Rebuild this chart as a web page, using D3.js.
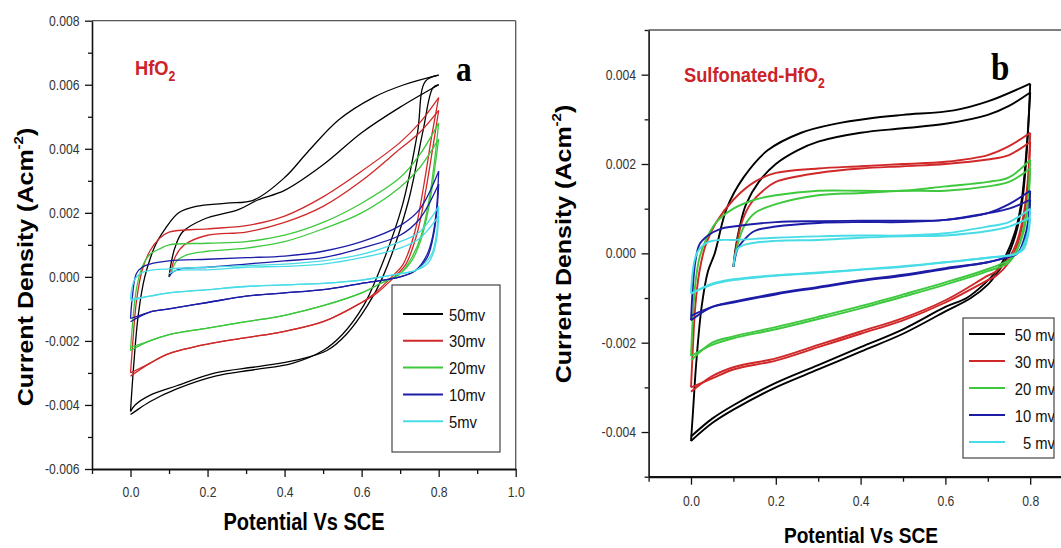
<!DOCTYPE html>
<html>
<head>
<meta charset="utf-8">
<script src="https://cdn.jsdelivr.net/npm/d3@7"></script>
<style>
  html, body { margin: 0; padding: 0; background: #fff; }
  svg { display: block; font-family: "Liberation Sans", Arial, sans-serif; }
</style>
</head>
<body>
<svg id="chart" width="1061" height="548"></svg>
<script>
// ---------------------------------------------------------------
// Cyclic voltammograms, potential (V vs SCE) vs current density (A cm^-2)
// Each series is a list of sweeps; each sweep is a list of [E, j] points.
// ---------------------------------------------------------------

const scanRates = ["50mv", "30mv", "20mv", "10mv", "5mv"];
const scanRatesSpaced = ["50 mv", "30 mv", "20 mv", "10 mv", "5 mv"];
const seriesColors = ["#000000", "#d02828", "#3dc83d", "#1c1ca6", "#48dce6"];

const xTickLabelsA = [0.0, 0.2, 0.4, 0.6, 0.8, 1.0];
const xTickLabelsB = [0.0, 0.2, 0.4, 0.6, 0.8];
const xMinorTicks = [-0.1, 0.1, 0.3, 0.5, 0.7, 0.9];
const yTicksA = [-0.006, -0.004, -0.002, 0.000, 0.002, 0.004, 0.006, 0.008];
const yMinorA = [-0.005, -0.003, -0.001, 0.001, 0.003, 0.005, 0.007];
const yTicksB = [-0.004, -0.002, 0.000, 0.002, 0.004];
const yMinorB = [-0.005, -0.003, -0.001, 0.001, 0.003, 0.005];

// ---------------- HfO2 ----------------
const hfo2_50 = [
  [[0.1,0.0],[0.105,0.0004],[0.115,0.0009],[0.135,0.0014],[0.19,0.0018],[0.28,0.0021],[0.33,0.0024],[0.4,0.0027],[0.5,0.0035],[0.6,0.0045],[0.7,0.0053],[0.8,0.0060]],
  [[0.8,0.0060],[0.785,0.0059],[0.76,0.0046],[0.72,0.0023],[0.655,0.0],[0.615,-0.0009],[0.56,-0.0018],[0.51,-0.0023],[0.43,-0.0026],[0.33,-0.0028],[0.22,-0.0030],[0.12,-0.0034],[0.05,-0.0037],[0.012,-0.0040],[0.0,-0.0042]],
  [[0.0,-0.0042],[0.008,-0.0028],[0.02,-0.0012],[0.037,0.0],[0.065,0.0010],[0.09,0.0015],[0.125,0.0020],[0.17,0.0022],[0.25,0.0023],[0.32,0.0024],[0.4,0.0031],[0.46,0.0039],[0.54,0.0049],[0.63,0.0056],[0.71,0.0060],[0.8,0.0063]],
  [[0.8,0.0063],[0.765,0.0061],[0.745,0.0045],[0.705,0.0022],[0.64,0.0],[0.605,-0.0009],[0.55,-0.0018],[0.5,-0.0023],[0.42,-0.0027],[0.32,-0.0029],[0.22,-0.0031],[0.12,-0.0035],[0.05,-0.0039],[0.012,-0.0042],[0.0,-0.0043]]
];
const hfo2_30 = [
  [[0.105,0.0001],[0.115,0.0006],[0.14,0.0010],[0.2,0.0013],[0.3,0.0014],[0.4,0.0017],[0.5,0.0022],[0.6,0.0030],[0.7,0.0040],[0.75,0.0045],[0.8,0.0052]],
  [[0.8,0.0052],[0.787,0.0042],[0.768,0.0028],[0.745,0.0014],[0.715,0.0004],[0.685,0.0],[0.64,-0.0005],[0.6,-0.0008],[0.5,-0.0014],[0.4,-0.0017],[0.3,-0.0019],[0.2,-0.0021],[0.1,-0.0024],[0.05,-0.0027],[0.0,-0.0030]],
  [[0.0,-0.0030],[0.005,-0.0022],[0.015,-0.0008],[0.03,0.0002],[0.05,0.0008],[0.075,0.0012],[0.1,0.0014],[0.2,0.0015],[0.3,0.0016],[0.4,0.0019],[0.5,0.0025],[0.6,0.0033],[0.7,0.0042],[0.75,0.0048],[0.8,0.0056]],
  [[0.8,0.0056],[0.782,0.0044],[0.762,0.0029],[0.738,0.0014],[0.708,0.0004],[0.678,0.0],[0.635,-0.0005],[0.6,-0.0008],[0.5,-0.0014],[0.4,-0.0017],[0.3,-0.0019],[0.2,-0.0021],[0.1,-0.0024],[0.05,-0.0027],[0.0,-0.0031]]
];
const hfo2_20 = [
  [[0.105,0.0001],[0.12,0.0005],[0.15,0.0007],[0.2,0.0008],[0.3,0.0009],[0.4,0.0011],[0.5,0.0015],[0.6,0.0020],[0.7,0.0028],[0.75,0.0034],[0.8,0.0043]],
  [[0.8,0.0043],[0.79,0.0034],[0.775,0.0022],[0.755,0.0012],[0.73,0.0005],[0.70,0.0001],[0.65,-0.0002],[0.6,-0.0005],[0.5,-0.0009],[0.4,-0.0012],[0.3,-0.0014],[0.2,-0.0016],[0.1,-0.0018],[0.05,-0.0020],[0.0,-0.0023]],
  [[0.0,-0.0023],[0.005,-0.0015],[0.015,-0.0004],[0.03,0.0003],[0.05,0.0007],[0.08,0.0009],[0.1,0.0010],[0.2,0.00105],[0.3,0.0011],[0.4,0.0013],[0.5,0.0017],[0.6,0.0023],[0.7,0.0031],[0.75,0.0038],[0.8,0.0048]],
  [[0.8,0.0048],[0.79,0.0037],[0.775,0.0024],[0.755,0.0013],[0.73,0.0006],[0.70,0.0001],[0.65,-0.0002],[0.6,-0.0005],[0.5,-0.0009],[0.4,-0.0012],[0.3,-0.0014],[0.2,-0.0016],[0.1,-0.0018],[0.05,-0.0020],[0.0,-0.0022]]
];
const hfo2_10 = [
  [[0.1,0.0],[0.11,0.00015],[0.13,0.00025],[0.2,0.0003],[0.3,0.0004],[0.4,0.0005],[0.5,0.0006],[0.6,0.0009],[0.7,0.0013],[0.75,0.0018],[0.8,0.0029]],
  [[0.8,0.0029],[0.795,0.0020],[0.785,0.0012],[0.77,0.0006],[0.74,0.0002],[0.7,0.0],[0.6,-0.0002],[0.5,-0.0004],[0.4,-0.0005],[0.3,-0.0006],[0.2,-0.0008],[0.1,-0.0010],[0.05,-0.0011],[0.0,-0.0013]],
  [[0.0,-0.0013],[0.005,-0.0006],[0.015,0.0001],[0.03,0.0003],[0.05,0.0004],[0.1,0.0005],[0.2,0.00055],[0.3,0.0006],[0.4,0.00065],[0.5,0.0008],[0.6,0.0011],[0.7,0.0016],[0.75,0.0021],[0.8,0.0033]],
  [[0.8,0.0033],[0.795,0.0022],[0.785,0.0013],[0.77,0.0007],[0.74,0.0002],[0.7,0.0],[0.6,-0.0002],[0.5,-0.0004],[0.4,-0.0005],[0.3,-0.0006],[0.2,-0.0008],[0.1,-0.0010],[0.05,-0.0011],[0.0,-0.0014]]
];
const hfo2_5 = [
  [[0.1,0.0001],[0.12,0.0002],[0.2,0.00022],[0.3,0.0003],[0.4,0.00033],[0.5,0.0004],[0.6,0.0006],[0.7,0.0009],[0.75,0.0012],[0.8,0.0019]],
  [[0.8,0.0019],[0.795,0.0012],[0.785,0.0007],[0.77,0.0004],[0.74,0.0002],[0.7,0.0001],[0.6,-0.0001],[0.5,-0.0002],[0.4,-0.00025],[0.3,-0.0003],[0.2,-0.0004],[0.1,-0.0005],[0.05,-0.0006],[0.0,-0.0007]],
  [[0.0,-0.0007],[0.003,-0.0004],[0.01,-0.0001],[0.025,0.0001],[0.05,0.0002],[0.1,0.00025],[0.2,0.0003],[0.3,0.00035],[0.4,0.0004],[0.5,0.0005],[0.6,0.0007],[0.7,0.0011],[0.75,0.0014],[0.8,0.0022]],
  [[0.8,0.0022],[0.795,0.0014],[0.785,0.0008],[0.77,0.0005],[0.74,0.0002],[0.7,0.0001],[0.6,-0.0001],[0.5,-0.0002],[0.4,-0.00025],[0.3,-0.0003],[0.2,-0.0004],[0.1,-0.0005],[0.05,-0.0006],[0.0,-0.00075]]
];

// ---------------- Sulfonated-HfO2 ----------------
const shfo2_50 = [
  [[0.1,-0.0003],[0.105,0.0001],[0.115,0.0006],[0.13,0.0011],[0.16,0.0016],[0.2,0.0020],[0.25,0.0023],[0.3,0.0025],[0.4,0.0027],[0.5,0.0028],[0.6,0.0029],[0.7,0.0031],[0.75,0.0033],[0.8,0.0036]],
  [[0.8,0.0036],[0.792,0.0024],[0.78,0.0012],[0.765,0.0005],[0.74,-0.0001],[0.72,-0.0004],[0.69,-0.0007],[0.65,-0.0010],[0.6,-0.0012],[0.5,-0.0017],[0.4,-0.0021],[0.3,-0.0025],[0.2,-0.0029],[0.1,-0.0034],[0.05,-0.0037],[0.0,-0.0041]],
  [[0.0,-0.0042],[0.005,-0.0035],[0.012,-0.0025],[0.025,-0.0012],[0.04,-0.0004],[0.056,0.0],[0.084,0.0010],[0.124,0.0017],[0.18,0.0023],[0.26,0.0027],[0.34,0.0029],[0.42,0.00302],[0.5,0.0031],[0.62,0.0032],[0.7,0.0034],[0.8,0.0038]],
  [[0.8,0.0038],[0.794,0.0026],[0.783,0.0013],[0.768,0.0005],[0.745,-0.0001],[0.725,-0.0004],[0.7,-0.0007],[0.66,-0.0010],[0.6,-0.0013],[0.5,-0.0018],[0.4,-0.0022],[0.3,-0.0026],[0.2,-0.0030],[0.1,-0.0035],[0.05,-0.0038],[0.0,-0.0042]]
];
const shfo2_30 = [
  [[0.1,-0.0003],[0.108,0.0002],[0.12,0.0007],[0.14,0.0011],[0.17,0.0014],[0.2,0.0016],[0.3,0.0018],[0.4,0.0019],[0.5,0.00195],[0.6,0.0020],[0.7,0.0021],[0.75,0.0022],[0.8,0.0025]],
  [[0.8,0.0025],[0.795,0.0016],[0.785,0.0008],[0.77,0.0002],[0.75,-0.0002],[0.72,-0.0005],[0.7,-0.0006],[0.6,-0.0011],[0.5,-0.0015],[0.4,-0.0018],[0.3,-0.0021],[0.2,-0.0024],[0.1,-0.0026],[0.05,-0.0028],[0.0,-0.0030]],
  [[0.0,-0.0030],[0.004,-0.0022],[0.01,-0.0012],[0.02,-0.0004],[0.035,0.0002],[0.06,0.0007],[0.1,0.0012],[0.15,0.0016],[0.2,0.0018],[0.3,0.0019],[0.4,0.00195],[0.5,0.0020],[0.6,0.00205],[0.7,0.0022],[0.75,0.0024],[0.8,0.0027]],
  [[0.8,0.0027],[0.795,0.0017],[0.785,0.0009],[0.77,0.0003],[0.75,-0.0001],[0.72,-0.0004],[0.7,-0.0005],[0.6,-0.00105],[0.5,-0.00145],[0.4,-0.00175],[0.3,-0.00205],[0.2,-0.00235],[0.1,-0.00255],[0.05,-0.00275],[0.0,-0.0031]]
];
const shfo2_20 = [
  [[0.1,-0.0003],[0.11,0.0002],[0.125,0.0006],[0.15,0.0009],[0.2,0.0011],[0.3,0.0013],[0.4,0.00135],[0.5,0.0014],[0.6,0.0014],[0.7,0.0015],[0.75,0.0016],[0.8,0.0019]],
  [[0.8,0.0019],[0.795,0.0011],[0.785,0.0005],[0.77,0.0001],[0.75,-0.0002],[0.7,-0.0004],[0.6,-0.0007],[0.5,-0.00097],[0.4,-0.00123],[0.3,-0.00147],[0.2,-0.0017],[0.1,-0.0019],[0.05,-0.00205],[0.0,-0.0023]],
  [[0.0,-0.0023],[0.004,-0.0015],[0.01,-0.0007],[0.02,-0.0001],[0.035,0.0003],[0.06,0.0007],[0.1,0.0010],[0.15,0.0012],[0.2,0.0013],[0.3,0.0014],[0.4,0.0014],[0.5,0.0014],[0.6,0.0015],[0.7,0.0016],[0.75,0.0017],[0.8,0.0021]],
  [[0.8,0.0021],[0.795,0.0012],[0.785,0.0006],[0.77,0.0001],[0.75,-0.00015],[0.7,-0.00035],[0.6,-0.00065],[0.5,-0.00092],[0.4,-0.00118],[0.3,-0.00142],[0.2,-0.00165],[0.1,-0.00186],[0.05,-0.0020],[0.0,-0.0024]]
];
const shfo2_10 = [
  [[0.1,-0.0003],[0.11,0.0001],[0.125,0.0003],[0.15,0.0005],[0.2,0.0006],[0.3,0.00068],[0.4,0.0007],[0.5,0.0007],[0.6,0.00075],[0.7,0.0009],[0.75,0.0010],[0.8,0.0012]],
  [[0.8,0.0012],[0.795,0.0006],[0.785,0.0002],[0.77,0.0],[0.74,-0.0001],[0.7,-0.0002],[0.6,-0.00035],[0.5,-0.0005],[0.4,-0.00062],[0.3,-0.00077],[0.2,-0.00092],[0.1,-0.0011],[0.05,-0.0012],[0.0,-0.0014]],
  [[0.0,-0.0015],[0.004,-0.0008],[0.01,-0.0002],[0.02,0.0002],[0.04,0.0004],[0.07,0.00055],[0.1,0.0006],[0.2,0.0007],[0.3,0.00072],[0.4,0.00073],[0.5,0.00073],[0.6,0.00075],[0.7,0.0009],[0.75,0.0011],[0.8,0.0014]],
  [[0.8,0.0014],[0.795,0.0007],[0.785,0.0003],[0.77,0.0],[0.74,-0.0001],[0.7,-0.0002],[0.6,-0.00033],[0.5,-0.00048],[0.4,-0.0006],[0.3,-0.00075],[0.2,-0.0009],[0.1,-0.00108],[0.05,-0.0012],[0.0,-0.0015]]
];
const shfo2_5 = [
  [[0.1,-0.0003],[0.11,0.0001],[0.13,0.0002],[0.2,0.00028],[0.3,0.0003],[0.4,0.00035],[0.5,0.00038],[0.6,0.0004],[0.7,0.0005],[0.75,0.0006],[0.8,0.0008]],
  [[0.8,0.0008],[0.795,0.0004],[0.785,0.0001],[0.77,0.0],[0.7,-0.0001],[0.6,-0.0002],[0.5,-0.0003],[0.4,-0.00037],[0.3,-0.00044],[0.2,-0.0005],[0.1,-0.0006],[0.05,-0.0007],[0.0,-0.0009]],
  [[0.0,-0.0009],[0.003,-0.0005],[0.01,-0.0001],[0.02,0.0001],[0.04,0.00025],[0.07,0.0003],[0.1,0.0003],[0.2,0.00035],[0.3,0.00038],[0.4,0.0004],[0.5,0.0004],[0.6,0.00045],[0.7,0.0006],[0.75,0.0007],[0.8,0.0010]],
  [[0.8,0.0010],[0.795,0.0005],[0.785,0.0002],[0.77,0.0],[0.7,-0.0001],[0.6,-0.0002],[0.5,-0.00029],[0.4,-0.00036],[0.3,-0.00043],[0.2,-0.00049],[0.1,-0.00058],[0.05,-0.00068],[0.0,-0.0009]]
];

const hfo2Series = [hfo2_50, hfo2_30, hfo2_20, hfo2_10, hfo2_5];
const shfo2Series = [shfo2_50, shfo2_30, shfo2_20, shfo2_10, shfo2_5];

// ---------------------------------------------------------------
const svg = d3.select("#chart");
const SQ = 0.87;              // horizontally condensed lettering
const TICK_COLOR = "#333";

function drawPanel(p) {
  const g = svg.append("g");
  const x = d3.scaleLinear().domain([-0.1, 1.0]).range(p.xRange);
  const y = d3.scaleLinear().domain(p.yDomain).range(p.yRange);
  const [x0, x1] = p.xRange;
  const [yb, yt] = p.yRange;

  // frame (top / right)
  g.append("line").attr("x1", x0).attr("x2", Math.min(x1, 1061)).attr("y1", yt).attr("y2", yt)
    .attr("stroke", "#555").attr("stroke-width", 1.3);
  if (x1 < 1061) {
    g.append("line").attr("x1", x1).attr("x2", x1).attr("y1", yt).attr("y2", yb)
      .attr("stroke", "#555").attr("stroke-width", 1.3);
  }

  // curves
  const line = d3.line().x(d => x(d[0])).y(d => y(d[1])).curve(d3.curveCatmullRom.alpha(0.5));
  p.series.forEach((sweeps, i) => {
    g.append("g").selectAll("path").data(sweeps).join("path")
      .attr("d", line).attr("fill", "none")
      .attr("stroke", seriesColors[i]).attr("stroke-width", p.lineWidth)
      .attr("stroke-linejoin", "round");
  });

  // axes
  const yAxis = g.append("g").attr("transform", `translate(${x0},0)`)
    .call(d3.axisLeft(y).tickValues(p.yTicks).tickSize(7).tickSizeOuter(0)
      .tickFormat(d => d.toFixed(3)));
  g.append("g").attr("transform", `translate(${x0},0)`)
    .call(d3.axisLeft(y).tickValues(p.yMinor).tickSize(4).tickSizeOuter(0).tickFormat(""))
    .select(".domain").remove();
  const xAxis = g.append("g").attr("transform", `translate(0,${yb})`)
    .call(d3.axisBottom(x).tickValues(p.xTicks).tickSize(8).tickSizeOuter(0)
      .tickFormat(d => d.toFixed(1)));
  g.append("g").attr("transform", `translate(0,${yb})`)
    .call(d3.axisBottom(x).tickValues(xMinorTicks).tickSize(5).tickSizeOuter(0).tickFormat(""))
    .select(".domain").remove();

  svg.selectAll(".tick line").attr("stroke", "#111").attr("stroke-width", 1.3);
  yAxis.select(".domain").attr("stroke", "#111").attr("stroke-width", 1.6);
  xAxis.select(".domain").attr("stroke", "#111").attr("stroke-width", 2.2);

  yAxis.selectAll(".tick text")
    .attr("x", -12.5 / SQ).attr("transform", `scale(${SQ},1)`)
    .attr("fill", TICK_COLOR).attr("font-size", 14).attr("font-family", "Liberation Sans, Arial, sans-serif");
  xAxis.selectAll(".tick text")
    .attr("y", p.xLabelOffset).attr("dy", 0).attr("transform", `scale(${SQ},1)`)
    .attr("fill", TICK_COLOR).attr("font-size", 14).attr("font-family", "Liberation Sans, Arial, sans-serif");

  // axis titles
  const yt2 = g.append("text")
    .attr("transform", `translate(${p.yTitle[0]},${p.yTitle[1]}) scale(${SQ},1) rotate(-90)`)
    .attr("text-anchor", "middle").attr("font-weight", "bold").attr("font-size", p.yTitleSize).attr("fill", "#000");
  yt2.append("tspan").text("Current Density (Acm");
  yt2.append("tspan").attr("font-size", p.yTitleSize * 0.6).attr("dy", -p.yTitleSize * 0.45).text("-2");
  yt2.append("tspan").attr("dy", p.yTitleSize * 0.45).text(")");

  g.append("text")
    .attr("transform", `translate(${p.xTitle[0]},${p.xTitle[1]}) scale(${SQ},1)`)
    .attr("text-anchor", "middle").attr("font-weight", "bold").attr("font-size", p.xTitleSize).attr("fill", "#000")
    .text("Potential Vs SCE");

  // material name
  const nm = g.append("text")
    .attr("transform", `translate(${p.name[0]},${p.name[1]}) scale(${SQ},1)`)
    .attr("font-weight", "bold").attr("font-size", 21).attr("fill", "#cc2229");
  nm.append("tspan").text(p.nameText);
  nm.append("tspan").attr("font-size", 14).attr("dy", 6).text("2");

  // panel letter
  g.append("text")
    .attr("transform", `translate(${p.letter[0]},${p.letter[1]}) scale(${SQ},1)`)
    .attr("font-family", "Liberation Serif, Times New Roman, serif").attr("font-weight", "bold")
    .attr("font-size", p.letterSize).attr("fill", "#000").text(p.letterText);

  // legend
  const L = p.legend;
  const lg = g.append("g");
  const clipId = "clip-" + p.letterText;
  svg.append("defs").append("clipPath").attr("id", clipId)
    .append("rect").attr("x", L.x).attr("y", L.y).attr("width", L.w).attr("height", L.h);
  lg.append("rect").attr("x", L.x).attr("y", L.y).attr("width", L.w).attr("height", L.h)
    .attr("fill", "#fff").attr("stroke", "#333").attr("stroke-width", 1.1);
  const rows = lg.append("g").attr("clip-path", `url(#${clipId})`);
  p.labels.forEach((lab, i) => {
    const ry = L.row0 + i * L.rowStep;
    rows.append("line").attr("x1", L.lx0).attr("x2", L.lx1).attr("y1", ry).attr("y2", ry)
      .attr("stroke", seriesColors[i]).attr("stroke-width", 2);
    rows.append("text")
      .attr("transform", `translate(${L.tx},${ry + 6.5}) scale(${SQ},1)`)
      .attr("text-anchor", L.anchor).attr("font-size", 17).attr("fill", "#111").text(lab);
  });
}

drawPanel({
  series: hfo2Series,
  xRange: [92, 515.7],
  xTicks: xTickLabelsA,
  yDomain: [-0.006, 0.008],
  yRange: [469, 20.7],
  yTicks: yTicksA, yMinor: yMinorA,
  lineWidth: 1.3,
  xLabelOffset: 28,
  yTitle: [33, 267], yTitleSize: 25,
  xTitle: [304, 530], xTitleSize: 23,
  name: [135, 75], nameText: "HfO",
  letter: [456, 81], letterText: "a", letterSize: 36,
  labels: scanRates,
  legend: { x: 392, y: 285, w: 108, h: 167, row0: 314, rowStep: 26.8, lx0: 403, lx1: 443, tx: 449, anchor: "start" }
});

drawPanel({
  series: shfo2Series,
  xRange: [648.6, 1115],
  xTicks: xTickLabelsB,
  yDomain: [-0.005, 0.005],
  yRange: [476.7, 30],
  yTicks: yTicksB, yMinor: yMinorB,
  lineWidth: 1.9,
  xLabelOffset: 29,
  yTitle: [571, 244], yTitleSize: 25,
  xTitle: [861, 543], xTitleSize: 22,
  name: [684, 82], nameText: "Sulfonated-HfO",
  letter: [991, 80], letterText: "b", letterSize: 38,
  labels: scanRatesSpaced,
  legend: { x: 963, y: 318, w: 91, h: 140, row0: 334, rowStep: 27, lx0: 969, lx1: 1005, tx: 1055, anchor: "end" }
});
</script>
</body>
</html>
